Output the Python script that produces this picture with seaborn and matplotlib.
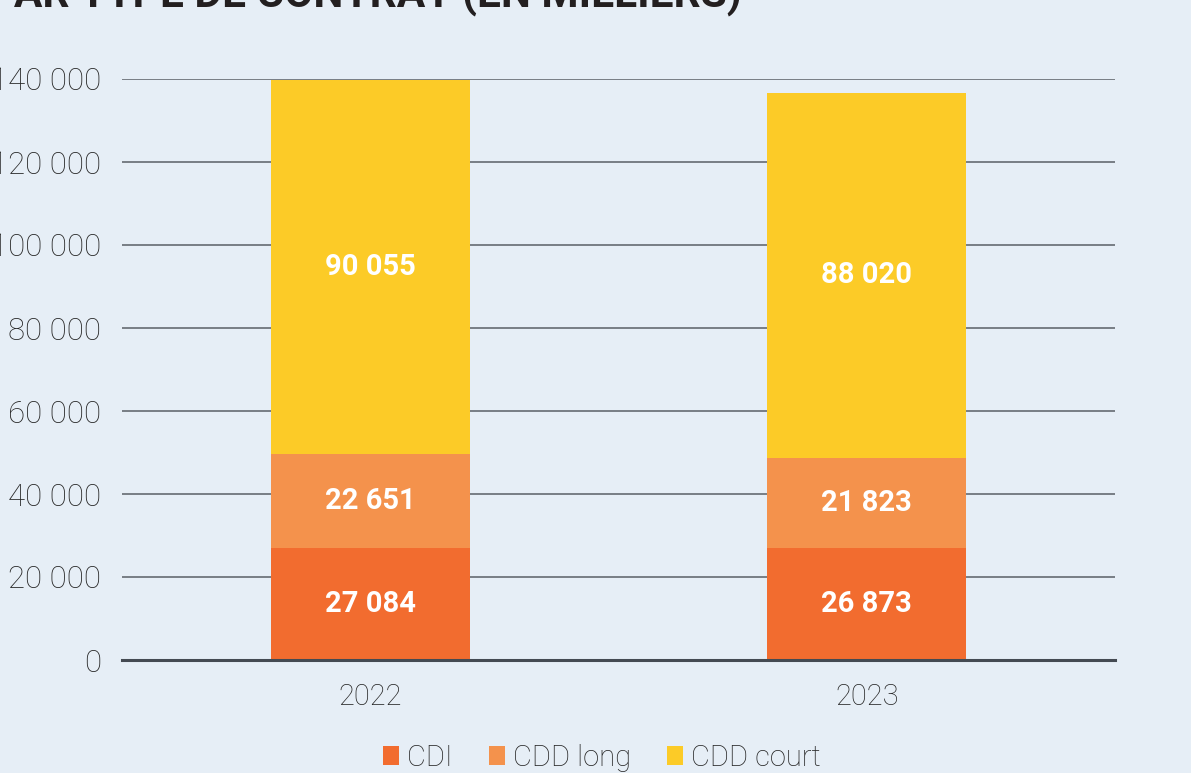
import matplotlib
matplotlib.use("Agg")
import matplotlib.pyplot as plt
import seaborn as sns
import numpy as np
import pandas as pd
from matplotlib.patches import Patch

years = ["2022", "2023"]
cdi = [27084, 26873]
cdd_long = [22651, 21823]
cdd_court = [90055, 88020]
series_names = ["CDI", "CDD long", "CDD court"]
colors = ["#F26C2F", "#F4924C", "#FCCB27"]
yticks = [0, 20000, 40000, 60000, 80000, 100000, 120000, 140000]
title = "RÉPARTITION DES EMBAUCHES PAR TYPE DE CONTRAT (EN MILLIERS)"

def fmt(v):
    return f"{int(v):,}".replace(",", " ")

bg = "#E6EEF6"
txt = "#262626"
sns.set_theme(style="white")
plt.rcParams["font.family"] = ["Roboto", "DejaVu Sans"]

fig = plt.figure(figsize=(11.91, 7.73), dpi=100, facecolor=bg)
ax = fig.add_axes([122/1191, 1 - 660/773, (1115-122)/1191, (660-79)/773])
ax.set_facecolor(bg)

df = pd.DataFrame({"year": years, "CDI": cdi, "CDD long": cdd_long, "CDD court": cdd_court})
df["c1"] = df["CDI"]
df["c2"] = df["CDI"] + df["CDD long"]
df["c3"] = df["c2"] + df["CDD court"]

for col, c in zip(["c3", "c2", "c1"], colors[::-1]):
    sns.barplot(data=df, x="year", y=col, color=c, saturation=1, width=0.4,
                linewidth=0, ax=ax, zorder=3)

for i, row in df.iterrows():
    bottoms = [0, row["c1"], row["c2"]]
    vals = [row["CDI"], row["CDD long"], row["CDD court"]]
    for b, v in zip(bottoms, vals):
        ax.text(i, b + v / 2, fmt(v), ha="center", va="center", color="white",
                fontsize=21, fontweight="bold", zorder=5)

ax.set_xlim(-0.5, 1.5)
ax.set_ylim(0, 140000)
ax.set_yticks(yticks)
ax.set_yticklabels([fmt(v) for v in yticks])
ax.yaxis.grid(True, color="#5a5f66", linewidth=1.1, zorder=1)
ax.set_axisbelow(True)
ax.tick_params(axis="y", length=0, pad=15, labelsize=22.5, labelcolor=txt)
ax.tick_params(axis="x", length=0, pad=16.5, labelsize=21, labelcolor=txt)
for lab in ax.get_yticklabels() + ax.get_xticklabels():
    lab.set_fontweight("light")
ax.set_xlabel("")
ax.set_ylabel("")
for s in ["top", "right", "left"]:
    ax.spines[s].set_visible(False)
ax.spines["bottom"].set_color("#444a52")
ax.spines["bottom"].set_linewidth(2.2)
ax.spines["bottom"].set_zorder(6)

handles = [Patch(facecolor=c, edgecolor="none", label=n) for n, c in zip(series_names, colors)]
leg = fig.legend(handles=handles, loc="center", bbox_to_anchor=(602/1191, 1 - 758/773),
                 ncol=3, frameon=False, fontsize=21, handlelength=0.55, handleheight=0.65,
                 handletextpad=0.27, columnspacing=1.25)
for t in leg.get_texts():
    t.set_color(txt)
    t.set_fontweight("light")

fig.text(742/1191, 1 - 7/773, title, ha="right", va="baseline", fontsize=30.5,
         fontweight="bold", color="#231f20")

fig.savefig("out.png", dpi=100, facecolor=bg)
